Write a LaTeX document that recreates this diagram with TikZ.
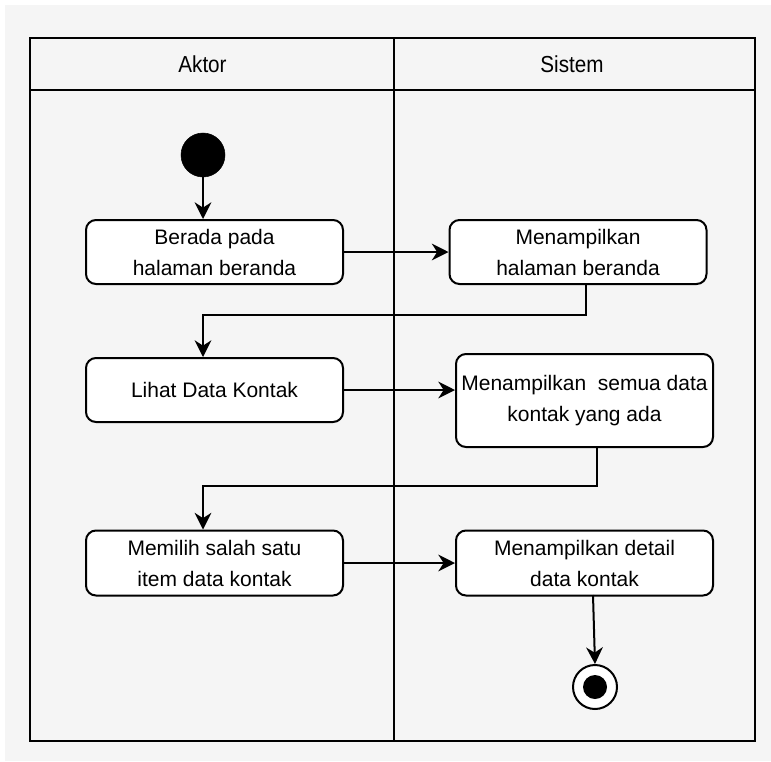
\documentclass[tikz,border=0pt]{standalone}
\usepackage{fontspec}
\usepackage{graphicx}
\setmainfont{Liberation Sans}
\usetikzlibrary{arrows.meta}
\definecolor{paper}{HTML}{F5F5F5}
\newcommand{\actfont}{\fontsize{15.75pt}{23.25pt}\selectfont}
\newcommand{\lanefont}{\fontsize{15.5pt}{18pt}\selectfont}
\newcommand{\lanetitle}[1]{\scalebox{1}[1.12]{#1}}
\begin{document}
\begin{tikzpicture}[x=0.75pt,y=-0.75pt,
  frame/.style={line width=1.5pt,line join=miter},
  act/.style={draw,line width=1.5pt,rounded corners=7.5pt,fill=white,
    align=center,font=\actfont,inner sep=0pt,minimum width=192.75pt},
  arr/.style={line width=1.5pt,-{Stealth[length=12.5pt,width=12.5pt,inset=4pt]}},
  startnode/.style={circle,fill=black,draw=black,minimum size=33pt,inner sep=0pt},
  endnode/.style={circle,fill=white,draw=black,line width=1.5pt,minimum size=33pt,inner sep=0pt},
  lane/.style={font=\lanefont}]
\useasboundingbox (0,0) rectangle (771,761);
\fill[white] (0,0) rectangle (771,761);
\fill[paper] (5,5) rectangle (771,761);

% swimlane frame
\draw[frame] (30,38) rectangle (755,741);
\draw[frame] (30,90) -- (755,90);
\draw[frame] (394,38) -- (394,741);
\node[lane] (laneA) at (202.5,64) {\lanetitle{Aktor}};
\node[lane] (laneS) at (572,64) {\lanetitle{Sistem}};

% activities
\node[startnode] (start) at (203,155) {};
\node[act,minimum height=48pt] (b1) at (214.5,252) {Berada pada\\halaman beranda};
\node[act,minimum height=48pt] (b2) at (578,252) {Menampilkan\\halaman beranda};
\node[act,minimum height=48pt] (b3) at (214.5,390) {Lihat Data Kontak};
\node[act,minimum height=69.75pt] (b4) at (584.5,400.5) {Menampilkan~ semua data\\kontak yang ada};
\node[act,minimum height=48.75pt] (b5) at (214.5,563) {Memilih salah satu\\item data kontak};
\node[act,minimum height=48.75pt] (b6) at (584.5,563) {Menampilkan detail\\data kontak};
\node[endnode] (end) at (595,687) {};
\fill (end.center) circle (9pt);

% bend points
\coordinate (k1) at (586,315);
\coordinate (k2) at (203,315);
\coordinate (k3) at (597,486);
\coordinate (k4) at (203,486);
\coordinate (k5) at (593,595);

% control flow
\draw[arr] (start.south) -- (start.south |- b1.north);
\draw[arr] (b1.east) -- (b1.east -| b2.west);
\draw[arr] (b2.south -| k1) -- (k1) -- (k2) -- (k2 |- b3.north);
\draw[arr] (b3.east) -- (b3.east -| b4.west);
\draw[arr] (b4.south -| k3) -- (k3) -- (k4) -- (k4 |- b5.north);
\draw[arr] (b5.east) -- (b5.east -| b6.west);
\draw[arr] (k5) -- (end.north);
\end{tikzpicture}
\end{document}
